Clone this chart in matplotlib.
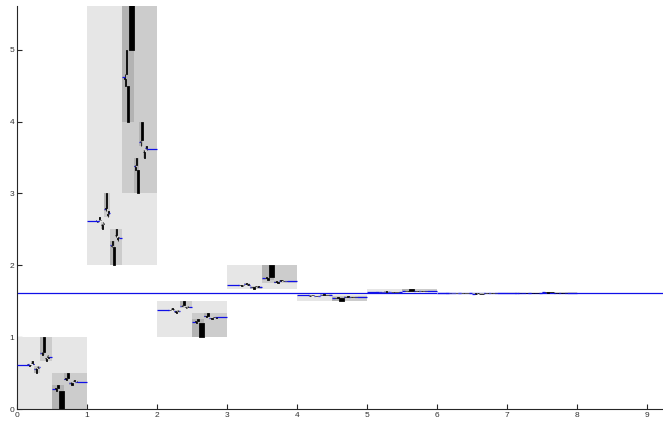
import numpy as np
import matplotlib
matplotlib.use("Agg")
import matplotlib.pyplot as plt
from matplotlib.collections import PolyCollection, LineCollection

# ---- data ----
box_index = [0, 1, 2, 3, 4, 5, 6, 7]          # unit column of each top-level box
ymap_a = [1, 2, 3, 5, 8, 13, 21, 34]          # box top/bottom convergents p_k
ymap_b = [0, 1, 1, 2, 3, 5, 8, 13]
ymap_c = [1, 1, 2, 3, 5, 8, 13, 21]           # q_k
ymap_d = [1, 0, 1, 1, 2, 3, 5, 8]
golden = 1.618                                 # limit line
tail_start = 5                                 # blue tail begins after this column
depth_levels = 4
level_colors = ['#e6e6e6', '#cccccc', '#b3b3b3', '#000000']
x_ticks = [0, 1, 2, 3, 4, 5, 6, 7, 8, 9]
y_ticks = [0, 1, 2, 3, 4, 5]
x_max = 9.23
y_max = 5.61

BIG = 1e4


def mob(m, v):
    a, b, c, d = m
    if np.isinf(v):
        return a / c if c != 0 else np.inf
    den = c * v + d
    return (a * v + b) / den if den != 0 else np.inf


def compose(m1, m2):
    a1, b1, c1, d1 = m1
    a2, b2, c2, d2 = m2
    return (a1 * a2 + b1 * c2, a1 * b2 + b1 * d2,
            c1 * a2 + d1 * c2, c1 * b2 + d1 * d2)


rects = {lv: [] for lv in range(1, depth_levels + 1)}
tails = []


def recurse(mx, my, level):
    for k, a, b, c, d in zip(box_index, ymap_a, ymap_b, ymap_c, ymap_d):
        nx = compose(mx, (k, k + 1, 1, 1))
        ny = compose(my, (a, b, c, d))
        x0, x1 = sorted([mob(nx, 0.0), mob(nx, np.inf)])
        y0, y1 = sorted([mob(ny, 0.0), mob(ny, np.inf)])
        y1 = min(y1, BIG)
        rects[level].append([(x0, y0), (x1, y0), (x1, y1), (x0, y1)])
        if level < depth_levels:
            xa = mob(nx, float(tail_start))
            xb = mob(nx, np.inf)
            yv = mob(ny, golden)
            tails.append([(xa, yv), (xb, yv)])
            recurse(nx, ny, level + 1)


recurse((1, 0, 0, 1), (1, 0, 0, 1), 1)

fig = plt.figure(figsize=(6.63, 4.21), dpi=100)
ax = fig.add_axes([17 / 663, 12 / 421, 646 / 663, 403 / 421])

ax.axhline(golden, color='#1010e8', lw=0.9, zorder=1.5)

for lv in range(1, depth_levels + 1):
    leaf = lv == depth_levels
    pc = PolyCollection(rects[lv], facecolors=level_colors[lv - 1],
                        edgecolors=level_colors[lv - 1] if leaf else 'none',
                        linewidths=0.55 if leaf else 0, zorder=2 + lv * 0.1,
                        antialiased=True)
    ax.add_collection(pc)

lc = LineCollection(tails, colors='#1010e8', linewidths=0.9, zorder=3)
ax.add_collection(lc)

ax.set_xlim(0, x_max)
ax.set_ylim(0, y_max)
ax.set_xticks(x_ticks)
ax.set_yticks(y_ticks)
ax.set_xticklabels([str(t) for t in x_ticks], fontsize=6, family='Liberation Sans', color='#333333')
ax.set_yticklabels([str(t) for t in y_ticks], fontsize=6, family='Liberation Sans', color='#333333')
ax.tick_params(direction='in', length=3.5, width=0.8, color='#262626', pad=2)
for s in ['top', 'right']:
    ax.spines[s].set_visible(False)
for s in ['left', 'bottom']:
    ax.spines[s].set_color('#262626')
    ax.spines[s].set_linewidth(0.8)
ax.patch.set_facecolor('white')

fig.savefig('out.png', dpi=100)
